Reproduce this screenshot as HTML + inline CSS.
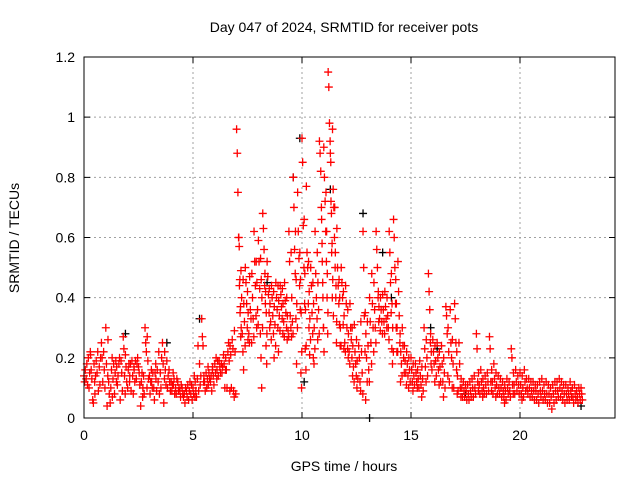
<!DOCTYPE html>
<html><head><meta charset="utf-8"><style>
body{margin:0;background:#fff}
svg{display:block;font-family:"Liberation Sans",sans-serif}
</style></head><body>
<svg id="chart" width="640" height="480">
<text x="344" y="32" text-anchor="middle" font-size="14">Day 047 of 2024, SRMTID for receiver pots</text>
<text x="344" y="471" text-anchor="middle" font-size="14">GPS time / hours</text>
<text transform="translate(19,238) rotate(-90)" text-anchor="middle" font-size="14">SRMTID / TECUs</text>
<g id="grid"></g><g id="marks"></g>
<rect x="84" y="57" width="531" height="361" fill="none" stroke="#000"/>
</svg>
<script>
const xTicks=[0,5,10,15,20];
const yTicks=[0,0.2,0.4,0.6,0.8,1,1.2];
const yTickLabels=["0","0.2","0.4","0.6","0.8","1","1.2"];
const redRows=[
[0.0,.14,.12,.16],[0.2,.20,.10,.15,.22],[0.4,.06,.05,.18,.12],[0.6,.15,.22,.09],[0.8,.25,.20,.12],
[1.0,.30,.18,.04,.14],[1.2,.05,.10,.16,.20],[1.4,.08,.15,.19,.12],[1.6,.18,.20,.06],[1.8,.27,.23,.14,.08],
[2.0,.10,.16,.18,.12],[2.2,.19,.14,.08,.17],[2.4,.13,.18,.20],[2.6,.04,.12,.15,.07],[2.8,.30,.25,.22,.10],
[3.0,.14,.08,.12,.16],[3.2,.10,.06,.15,.18],[3.4,.12,.22,.08],[3.6,.25,.18,.05,.13],[3.8,.19,.10,.14],
[4.0,.12,.09,.11,.15],[4.2,.10,.08,.13],[4.4,.09,.07,.11],[4.6,.08,.05,.10],[4.8,.06,.09,.12],
[5.0,.10,.08,.14,.07],[5.2,.13,.24,.09],[5.4,.33,.27,.24,.12],[5.6,.15,.10,.13,.17],[5.8,.12,.14,.09,.16],
[6.0,.18,.15,.20,.13],[6.2,.19,.17,.15],[6.4,.21,.18,.10,.16],[6.6,.22,.25,.19,.09],[6.8,.26,.23,.09,.07],
[7.0,.96,.88,.75,.60,.57,.46,.37,.30],[7.2,.49,.40,.28,.22,.16],[7.4,.50,.45,.38,.30,.26],[7.6,.47,.36,.33,.25],
[7.8,.62,.52,.44,.34,.30],[8.0,.59,.52,.43,.28,.20,.10],[8.2,.68,.63,.56,.44,.38,.24,.18],[8.4,.52,.47,.41,.35,.30],
[8.6,.44,.40,.34,.28,.20],[8.8,.45,.40,.36,.30,.22],[9.0,.44,.41,.37,.33,.28],[9.2,.45,.39,.35,.30,.26],
[9.4,.62,.52,.34,.30,.27],[9.6,.80,.70,.56,.48,.33,.18],[9.8,.75,.62,.53,.44,.36,.15,.10],
[10.0,.93,.85,.64,.50,.38,.23,.16],[10.2,.77,.55,.50,.38,.30,.21],[10.4,.50,.44,.35,.28,.20,.18],
[10.6,.62,.48,.40,.33,.26],[10.8,.92,.88,.82,.70,.58,.45,.30,.22],[11.0,.90,.80,.72,.62,.52,.40,.28],
[11.2,1.15,1.10,.98,.92,.85,.68,.58,.46,.34],[11.4,.96,.76,.70,.60,.50,.40,.25],[11.6,.63,.50,.44,.38,.31,.24],
[11.8,.50,.45,.40,.31,.23],[12.0,.44,.38,.30,.23,.20],[12.2,.38,.30,.26,.20,.14],[12.4,.31,.22,.18,.14,.10],
[12.6,.24,.20,.12,.09],[12.8,.62,.50,.34,.22,.06],[13.0,.32,.24,.16,.12],[13.2,.48,.38,.30,.22],
[13.4,.62,.56,.50,.40,.32],[13.6,.40,.36,.32,.28],[13.8,.42,.37,.33,.30],[14.0,.62,.55,.45,.35,.23,.18],
[14.2,.66,.60,.50,.38,.30,.22],[14.4,.52,.42,.34,.25,.12],[14.6,.30,.24,.20,.15],[14.8,.22,.18,.14,.10],
[15.0,.20,.16,.12,.09],[15.2,.18,.15,.12,.10],[15.4,.19,.14,.11,.07],[15.6,.30,.23,.17,.12],
[15.8,.48,.42,.36,.25,.18],[16.0,.26,.22,.18,.12],[16.2,.25,.20,.16,.11],[16.4,.24,.18,.12,.07],
[16.6,.37,.34,.28,.14],[16.8,.36,.25,.20,.10],[17.0,.38,.33,.25,.16,.08],[17.2,.25,.18,.10,.07],
[17.4,.12,.09,.07],[17.6,.11,.08,.06],[17.8,.13,.10,.07],[18.0,.28,.23,.12,.09],[18.2,.16,.12,.09,.07],
[18.4,.14,.11,.08],[18.6,.27,.23,.12,.09],[18.8,.18,.13,.10,.07],[19.0,.14,.10,.08],[19.2,.12,.09,.07,.05],
[19.4,.13,.10,.08],[19.6,.23,.20,.11,.08],[19.8,.16,.12,.09],[20.0,.15,.11,.08,.06],[20.2,.16,.12,.09],
[20.4,.13,.10,.07],[20.6,.12,.09,.06],[20.8,.11,.08,.05],[21.0,.13,.09,.06],[21.2,.12,.08,.05],
[21.4,.10,.07,.03],[21.6,.12,.09,.06],[21.8,.13,.10,.07],[22.0,.11,.08,.05],[22.2,.10,.08,.06],
[22.4,.10,.07,.05],[22.6,.09,.07,.05],[22.8,.10,.08,.06]];
const redRows2=[
[0.1,.13,.18,.11],[0.3,.21,.16,.13],[0.5,.08,.14,.19],[0.7,.17,.11,.20],[0.9,.22,.16,.10],
[1.1,.26,.12,.08],[1.3,.07,.13,.18],[1.5,.17,.11,.14],[1.7,.19,.15,.09],[1.9,.21,.17,.12],
[2.1,.14,.18,.09],[2.3,.16,.12,.19],[2.5,.17,.15,.11],[2.7,.10,.14,.08],[2.9,.27,.19,.13],
[3.1,.12,.10,.15],[3.3,.13,.09,.16],[3.5,.15,.10,.20],[3.7,.22,.16,.11],[3.9,.16,.12,.09],
[4.1,.11,.13,.08],[4.3,.12,.09,.10],[4.5,.10,.08,.07],[4.7,.09,.07,.11],[4.9,.08,.11,.06],
[5.1,.12,.09,.07],[5.3,.18,.11,.14],[5.5,.14,.12,.09],[5.7,.11,.15,.13],[5.9,.17,.14,.11],
[6.1,.16,.19,.14],[6.3,.18,.15,.17],[6.5,.20,.16,.10],[6.7,.24,.21,.10],[6.9,.29,.22,.08],
[7.1,.60,.44,.35,.27],[7.3,.46,.38,.32,.24],[7.5,.42,.35,.28,.25],[7.7,.48,.40,.33,.27],
[7.9,.52,.45,.36,.31],[8.1,.53,.46,.40,.30],[8.3,.48,.42,.35,.28],[8.5,.43,.38,.32,.26],
[8.7,.42,.37,.31,.24],[8.9,.44,.39,.34,.29],[9.1,.43,.38,.32,.27],[9.3,.40,.34,.29,.27],
[9.5,.55,.40,.32,.28],[9.7,.62,.46,.38,.30],[9.9,.55,.46,.35,.22],[10.1,.66,.48,.36,.24],
[10.3,.52,.42,.33,.26],[10.5,.45,.38,.30,.23],[10.7,.55,.45,.36,.28],[10.9,.66,.52,.40,.30],
[11.1,.75,.62,.48,.35],[11.3,.88,.72,.55,.40],[11.5,.70,.55,.44,.32],[11.7,.46,.40,.30,.24],
[11.9,.42,.34,.25,.22],[12.1,.36,.28,.22,.18],[12.3,.30,.24,.17,.12],[12.5,.26,.19,.13],
[12.7,.32,.22,.15,.08],[12.9,.35,.28,.20,.12],[13.1,.40,.32,.25,.18],[13.3,.45,.36,.30,.25],
[13.5,.42,.37,.33,.29],[13.7,.41,.36,.32,.28],[13.9,.40,.34,.30,.26],[14.1,.48,.38,.30,.22],
[14.3,.46,.38,.30,.22],[14.5,.28,.22,.18,.14],[14.7,.24,.19,.15,.11],[14.9,.20,.16,.12],
[15.1,.18,.14,.11],[15.3,.16,.13,.10],[15.5,.17,.13,.09],[15.7,.26,.20,.14],[15.9,.28,.22,.16],
[16.1,.24,.19,.14],[16.3,.22,.17,.12],[16.5,.20,.15,.10],[16.7,.30,.22,.12],[16.9,.26,.18,.10],
[17.1,.22,.14,.09],[17.3,.13,.10,.07],[17.5,.11,.09,.06],[17.7,.12,.09,.07],[17.9,.14,.10,.08],
[18.1,.15,.11,.08],[18.3,.13,.10,.08],[18.5,.15,.12,.09],[18.7,.16,.12,.08],[18.9,.15,.11,.08],
[19.1,.13,.10,.07],[19.3,.11,.09,.06],[19.5,.12,.09,.07],[19.7,.15,.11,.08],[19.9,.14,.11,.08],
[20.1,.14,.10,.07],[20.3,.13,.10,.08],[20.5,.12,.09,.07],[20.7,.11,.09,.06],[20.9,.12,.09,.07],
[21.1,.11,.08,.06],[21.3,.11,.08,.05],[21.5,.11,.08,.05],[21.7,.12,.09,.07],[21.9,.12,.09,.06],
[22.1,.11,.08,.06],[22.3,.12,.09,.07],[22.5,.11,.08,.06],[22.7,.10,.08,.06]];
const blackTimes=[5.3,9.9,11.3,12.8,13.1,9.6,13.7,15.9,3.8,1.9,22.8,16.2,17.5,14.1,10.1,8.4];
const blackValues=[.33,.93,.76,.68,0,.80,.55,.30,.25,.28,.04,.23,.08,.40,.12,.45];

const X0=84,X1=615,Y0=418,Y1=57;
const xs=t=>X0+t*(520-84)/20;
const ys=v=>Y0-v*(Y0-Y1)/1.2;
const NS="http://www.w3.org/2000/svg";
const grid=document.getElementById('grid'),marks=document.getElementById('marks'),svg=document.getElementById('chart');
function mk(tag,at,parent){const e=document.createElementNS(NS,tag);for(const k in at)e.setAttribute(k,at[k]);parent.appendChild(e);return e;}
xTicks.forEach(t=>{const x=xs(t);
 if(t>0){const g=mk('line',{x1:x,x2:x,y1:Y1,y2:Y0,stroke:'#a0a0a0','stroke-dasharray':'2,3'},grid);
 
 }
 const tk=mk('path',{d:`M${x},${Y0}v-6M${x},${Y1}v6`,stroke:'#000'},grid);
 
 
 const l=mk('text',{x:x,y:Y0+22,'text-anchor':'middle','font-size':14},svg);l.textContent=t;
 
 });
yTicks.forEach((v,i)=>{const y=ys(v);
 if(v>0&&v<1.2){const g=mk('line',{x1:X0,x2:X1,y1:y,y2:y,stroke:'#a0a0a0','stroke-dasharray':'2,3'},grid);
 
 }
 const tk=mk('path',{d:`M${X0},${y}h6M${X1},${y}h-6`,stroke:'#000'},grid);
 
 
 const l=mk('text',{x:X0-9,y:y+5,'text-anchor':'end','font-size':14},svg);l.textContent=yTickLabels[i];
 
 });
function plus(t,v,col,name){const x=xs(t),y=ys(v);
 const p=mk('path',{d:`M${x-4},${y}h8M${x},${y-4}v8`,stroke:col,'stroke-width':1.3},marks);
 
 }
blackTimes.forEach((t,i)=>plus(t,blackValues[i],'#000','black-point'));
redRows.concat(redRows2).forEach(r=>{for(let k=1;k<r.length;k++)plus(r[0]+(k-1)*0.03,r[k],'#f00','red-point');});
</script>
</body></html>
